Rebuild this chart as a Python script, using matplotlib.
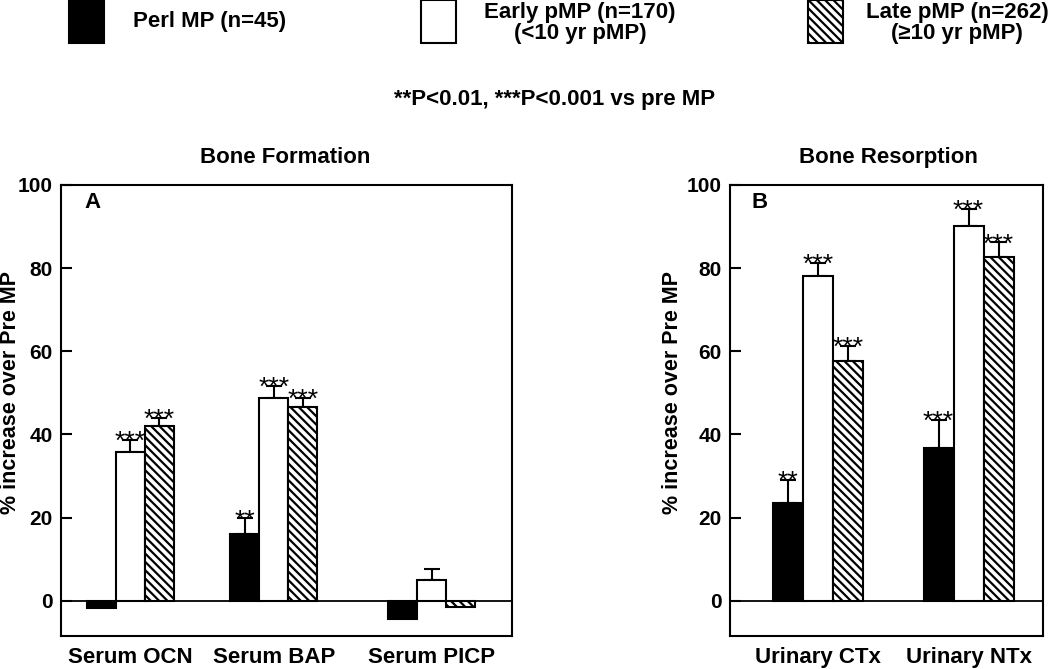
import matplotlib
matplotlib.use('Agg')
import matplotlib.pyplot as plt
from matplotlib.patches import Rectangle

plt.rcParams['font.family'] = ['Liberation Sans', 'DejaVu Sans']
plt.rcParams['font.weight'] = 'bold'
plt.rcParams['axes.labelweight'] = 'bold'
plt.rcParams['hatch.color'] = 'black'
plt.rcParams['hatch.linewidth'] = 1.6

# Panel A - bone formation markers
groups_a = ['Serum OCN', 'Serum BAP', 'Serum PICP']
peri_a = [-1.7, 16.0, -4.5]
peri_a_err = [0, 3.8, 0]
peri_a_sig = ['', '**', '']
early_a = [35.7, 48.7, 5.0]
early_a_err = [2.9, 3.0, 2.5]
early_a_sig = ['***', '***', '']
late_a = [42.1, 46.5, -1.6]
late_a_err = [1.9, 2.3, 0]
late_a_sig = ['***', '***', '']

# Panel B - bone resorption markers
groups_b = ['Urinary CTx', 'Urinary NTx']
peri_b = [23.4, 36.7]
peri_b_err = [5.6, 6.8]
peri_b_sig = ['**', '***']
early_b = [78.0, 90.1]
early_b_err = [3.2, 4.1]
early_b_sig = ['***', '***']
late_b = [57.6, 82.6]
late_b_err = [3.7, 3.6]
late_b_sig = ['***', '***']

legend_labels = ['Perl MP (n=45)', 'Early pMP (n=170)\n(<10 yr pMP)',
                 'Late pMP (n=262)\n(\u226510 yr pMP)']
yticks = [0, 20, 40, 60, 80, 100]

styles = [dict(facecolor='black'),
          dict(facecolor='white'),
          dict(facecolor='white', hatch='\\\\\\\\')]


def draw_series(ax, centers, offset, vals, errs, sigs, style):
    xs = [c + offset for c in centers]
    ax.bar(xs, vals, width=1.0, edgecolor='black', linewidth=1.5, zorder=3, **style)
    for x, v, e, s in zip(xs, vals, errs, sigs):
        if e > 0:
            ax.errorbar(x, v, yerr=[[0], [e]], fmt='none', ecolor='black',
                        elinewidth=1.5, capsize=6, capthick=1.5, zorder=2)
        if s:
            ax.annotate(s, (x, v + e), xytext=(0, -6.5), textcoords='offset points',
                        ha='center', va='baseline', fontsize=19, fontweight='normal')


def setup_axis(ax, centers, labels, xmax, letter, lx, ylx):
    ax.set_xlim(0, xmax)
    ax.set_ylim(-8.5, 100)
    ax.axhline(0, color='black', linewidth=1.3, zorder=1)
    ax.set_yticks(yticks)
    ax.tick_params(axis='y', direction='in', length=8, width=1.5, labelsize=15, pad=6)
    ax.set_xticks(centers)
    ax.set_xticklabels(labels, fontsize=16)
    ax.tick_params(axis='x', length=0, pad=8)
    for sp in ax.spines.values():
        sp.set_linewidth(1.5)
    ax.set_ylabel('% increase over Pre MP', fontsize=15.5)
    ax.yaxis.set_label_coords(ylx, 0.541)
    ax.text(lx, 0.962, letter, transform=ax.transAxes, fontsize=16, va='center', ha='center')


fig = plt.figure(figsize=(10.5, 6.69), dpi=100)
W, H = 1050, 669

axA = fig.add_axes([61 / W, 33 / H, 451 / W, 451 / H])
centers_a = [2.38, 7.34, 12.79]
draw_series(axA, centers_a, -1, peri_a, peri_a_err, peri_a_sig, styles[0])
draw_series(axA, centers_a, 0, early_a, early_a_err, early_a_sig, styles[1])
draw_series(axA, centers_a, 1, late_a, late_a_err, late_a_sig, styles[2])
setup_axis(axA, centers_a, groups_a, 15.55, 'A', 0.07, -0.088)

axB = fig.add_axes([730 / W, 33 / H, 313 / W, 451 / H])
centers_b = [2.93, 7.95]
draw_series(axB, centers_b, -1, peri_b, peri_b_err, peri_b_sig, styles[0])
draw_series(axB, centers_b, 0, early_b, early_b_err, early_b_sig, styles[1])
draw_series(axB, centers_b, 1, late_b, late_b_err, late_b_sig, styles[2])
setup_axis(axB, centers_b, groups_b, 10.43, 'B', 0.093, -0.15)

# panel titles
fig.text(285 / W, 1 - 158 / H, 'Bone Formation', ha='center', va='center', fontsize=16)
fig.text(888 / W, 1 - 158 / H, 'Bone Resorption', ha='center', va='center', fontsize=16)

# legend drawn by hand across the top
rect_x = [69, 421, 808]
text_x = [133, 580, 957]
for i in range(3):
    fig.add_artist(Rectangle((rect_x[i] / W, 1 - 43 / H), 35 / W, 43 / H,
                             transform=fig.transFigure, edgecolor='black',
                             linewidth=1.5, **styles[i]))
fig.text(text_x[0] / W, 1 - 22 / H, legend_labels[0], ha='left', va='center', fontsize=16)
fig.text(text_x[1] / W, 1 - 23 / H, legend_labels[1], ha='center', va='center',
         fontsize=16, multialignment='center', linespacing=1.05)
fig.text(text_x[2] / W, 1 - 23 / H, legend_labels[2], ha='center', va='center',
         fontsize=16, multialignment='center', linespacing=1.05)

fig.text(555 / W, 1 - 100 / H, '**P<0.01, ***P<0.001 vs pre MP', ha='center',
         va='center', fontsize=16)

fig.savefig('out.png', dpi=100)
